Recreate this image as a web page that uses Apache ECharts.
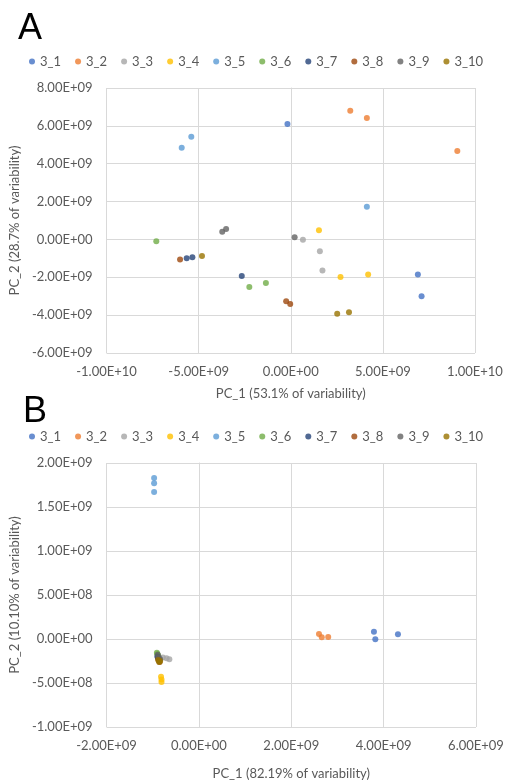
<!DOCTYPE html>
<html><head><meta charset="utf-8">
<script src="https://cdn.jsdelivr.net/npm/echarts@6/dist/echarts.min.js"></script>
<style>html,body{margin:0;padding:0;background:#fff}#c{width:512px;height:784px}</style>
</head><body><div id="c"></div>
<script>
// Series names and colours
const seriesNames = ['3_1','3_2','3_3','3_4','3_5','3_6','3_7','3_8','3_9','3_10'];
const seriesColors = ['#4472C4','#ED7D31','#A5A5A5','#FFC000','#5B9BD5','#70AD47','#264478','#9E480E','#636363','#997300'];

// Panel A points [PC_1, PC_2]
const A_3_1  = [[-0.18e9, 6.10e9], [6.90e9, -1.85e9], [7.10e9, -3.00e9]];
const A_3_2  = [[3.23e9, 6.80e9], [4.13e9, 6.42e9], [9.04e9, 4.67e9]];
const A_3_3  = [[0.66e9, -0.02e9], [1.58e9, -0.62e9], [1.72e9, -1.64e9]];
const A_3_4  = [[1.53e9, 0.49e9], [2.70e9, -1.98e9], [4.20e9, -1.85e9]];
const A_3_5  = [[-5.92e9, 4.85e9], [-5.40e9, 5.43e9], [4.13e9, 1.72e9]];
const A_3_6  = [[-7.30e9, -0.09e9], [-2.25e9, -2.51e9], [-1.35e9, -2.30e9]];
const A_3_7  = [[-5.65e9, -1.00e9], [-5.34e9, -0.94e9], [-2.66e9, -1.93e9]];
const A_3_8  = [[-6.01e9, -1.06e9], [-0.25e9, -3.26e9], [-0.03e9, -3.41e9]];
const A_3_9  = [[-3.72e9, 0.40e9], [-3.51e9, 0.55e9], [0.21e9, 0.12e9]];
const A_3_10 = [[-4.82e9, -0.87e9], [2.52e9, -3.92e9], [3.16e9, -3.85e9]];

// Panel B points [PC_1, PC_2]
const B_3_1  = [[3.79e9, 0.083e9], [3.82e9, -0.003e9], [4.31e9, 0.053e9]];
const B_3_2  = [[2.60e9, 0.057e9], [2.66e9, 0.019e9], [2.80e9, 0.023e9]];
const B_3_3  = [[-0.78e9, -0.21e9], [-0.70e9, -0.22e9], [-0.64e9, -0.23e9]];
const B_3_4  = [[-0.82e9, -0.43e9], [-0.81e9, -0.46e9], [-0.81e9, -0.49e9]];
const B_3_5  = [[-0.97e9, 1.83e9], [-0.97e9, 1.77e9], [-0.97e9, 1.67e9]];
const B_3_6  = [[-0.91e9, -0.155e9], [-0.90e9, -0.17e9], [-0.88e9, -0.19e9]];
const B_3_7  = [[-0.90e9, -0.20e9], [-0.88e9, -0.22e9], [-0.86e9, -0.24e9]];
const B_3_8  = [[-0.88e9, -0.23e9], [-0.86e9, -0.25e9], [-0.85e9, -0.26e9]];
const B_3_9  = [[-0.89e9, -0.18e9], [-0.87e9, -0.21e9], [-0.84e9, -0.23e9]];
const B_3_10 = [[-0.88e9, -0.24e9], [-0.86e9, -0.26e9], [-0.84e9, -0.25e9]];

const dataA = [A_3_1, A_3_2, A_3_3, A_3_4, A_3_5, A_3_6, A_3_7, A_3_8, A_3_9, A_3_10];
const dataB = [B_3_1, B_3_2, B_3_3, B_3_4, B_3_5, B_3_6, B_3_7, B_3_8, B_3_9, B_3_10];

function sci(v) {
  if (v === 0) return '0.00E+00';
  const s = v < 0 ? '-' : '';
  const a = Math.abs(v);
  let e = Math.floor(Math.log10(a) + 1e-9);
  let m = a / Math.pow(10, e);
  let ms = m.toFixed(2);
  if (parseFloat(ms) >= 10) { e += 1; ms = (a / Math.pow(10, e)).toFixed(2); }
  const es = (e < 0 ? '-' : '+') + String(Math.abs(e)).padStart(2, '0');
  return s + ms + 'E' + es;
}

const FONT = 'Lato';
const txt = '#595959';
const gridLine = '#D9D9D9';

function xAxis(gi, min, max, interval, name, gap) {
  return {
    type: 'value', gridIndex: gi, min, max, interval,
    name, nameLocation: 'middle', nameGap: gap,
    nameTextStyle: { color: txt, fontFamily: FONT, fontSize: 13 },
    axisLine: { show: true, lineStyle: { color: gridLine } },
    axisTick: { show: false },
    axisLabel: { color: txt, fontFamily: FONT, fontSize: 13, margin: 12, formatter: sci },
    splitLine: { show: true, lineStyle: { color: gridLine } }
  };
}
function yAxis(gi, min, max, interval, name, gap) {
  return {
    type: 'value', gridIndex: gi, min, max, interval,
    name, nameLocation: 'middle', nameGap: gap, nameRotate: 90,
    nameTextStyle: { color: txt, fontFamily: FONT, fontSize: 13 },
    axisLine: { show: true, lineStyle: { color: gridLine } },
    axisTick: { show: false },
    axisLabel: { color: txt, fontFamily: FONT, fontSize: 13, margin: 14, formatter: sci },
    splitLine: { show: true, lineStyle: { color: gridLine } }
  };
}
function legend(top) {
  return {
    top, left: 24, width: 486, itemWidth: 6, itemHeight: 6, itemGap: 14, icon: 'circle',
    textStyle: { color: txt, fontFamily: FONT, fontSize: 13 },
    data: seriesNames
  };
}

const series = [];
seriesNames.forEach((n, i) => {
  series.push({ name: n, type: 'scatter', xAxisIndex: 0, yAxisIndex: 0, data: dataA[i], symbolSize: 6, itemStyle: { color: seriesColors[i] } });
});
seriesNames.forEach((n, i) => {
  series.push({ name: n, type: 'scatter', xAxisIndex: 1, yAxisIndex: 1, data: dataB[i], symbolSize: 6, itemStyle: { color: seriesColors[i] } });
});

const chart = echarts.init(document.getElementById('c'), null, { renderer: 'canvas' });
chart.setOption({
  animation: false,
  color: seriesColors,
  title: [
    { text: 'A', left: 13, top: 6, textStyle: { fontFamily: 'Liberation Sans', fontWeight: 'normal', fontSize: 36, color: '#000' } },
    { text: 'B', left: 18, top: 389, textStyle: { fontFamily: 'Liberation Sans', fontWeight: 'normal', fontSize: 36, color: '#000' } }
  ],
  legend: [legend(50), legend(425)],
  grid: [
    { left: 100, top: 88, width: 375, height: 265 },
    { left: 100, top: 463, width: 376, height: 264 }
  ],
  xAxis: [
    xAxis(0, -1e10, 1e10, 5e9, 'PC_1 (53.1% of variability)', 34),
    xAxis(1, -2e9, 6e9, 2e9, 'PC_1 (82.19% of variability)', 40)
  ],
  yAxis: [
    yAxis(0, -6e9, 8e9, 2e9, 'PC_2 (28.7% of variability)', 79),
    yAxis(1, -1e9, 2e9, 5e8, 'PC_2 (10.10% of variability)', 79)
  ],
  series
});
</script></body></html>
